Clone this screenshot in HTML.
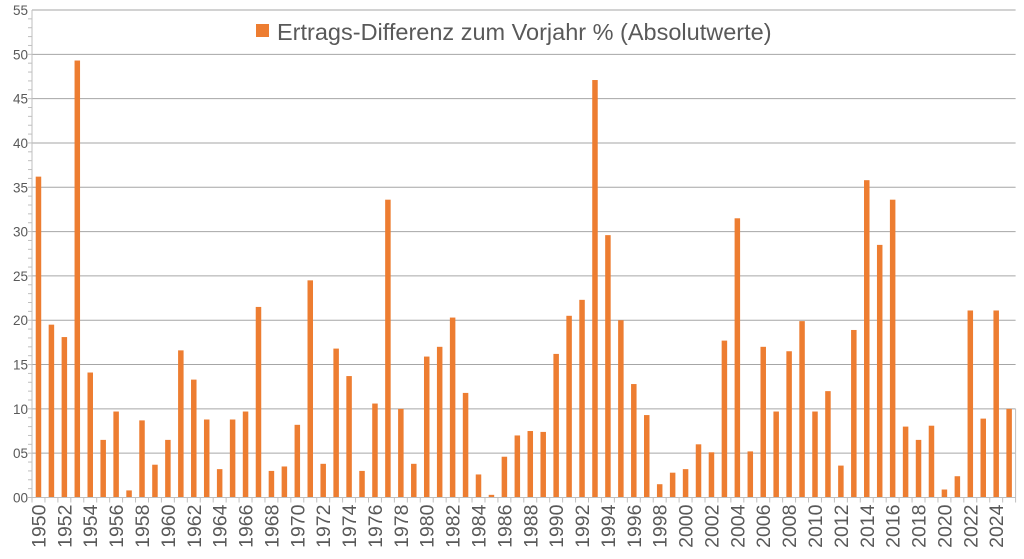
<!DOCTYPE html>
<html><head><meta charset="utf-8"><style>
body{margin:0;background:#fff;}
svg{display:block;font-family:"Liberation Sans",sans-serif;}
</style></head><body>
<svg id="chart" width="1024" height="559">
<rect width="1024" height="559" fill="#fff"/>
<g id="grid"></g><g id="bars"></g><g id="axes"></g>
<g>
<rect x="256" y="24" width="13" height="13" fill="#ED7D31"/>
<text x="277" y="40" font-size="23.5" fill="#595959">Ertrags-Differenz zum Vorjahr % (Absolutwerte)</text>
</g>
</svg>
<script>
const years=[];for(let y=1950;y<=2025;y++)years.push(y);
const values=[36.2,19.5,18.1,49.3,14.1,6.5,9.7,0.8,8.7,3.7,6.5,16.6,13.3,8.8,3.2,8.8,9.7,21.5,3.0,3.5,8.2,24.5,3.8,16.8,13.7,3.0,10.6,33.6,10.0,3.8,15.9,17.0,20.3,11.8,2.6,0.3,4.6,7.0,7.5,7.4,16.2,20.5,22.3,47.1,29.6,20.0,12.8,9.3,1.5,2.8,3.2,6.0,5.1,17.7,31.5,5.2,17.0,9.7,16.5,19.9,9.7,12.0,3.6,18.9,35.8,28.5,33.6,8.0,6.5,8.1,0.9,2.4,21.1,8.9,21.1,10.0];
const yTicks=["00","05","10","15","20","25","30","35","40","45","50","55"];
const NS="http://www.w3.org/2000/svg";
const L=32,R=1015.6,Y0=497.5,YT=10,MAX=55;
const cw=(R-L)/years.length;
const ys=v=>Y0-(Y0-YT)*v/MAX;
const xs=i=>L+cw*(i+0.5);
function mk(t,a,p){const e=document.createElementNS(NS,t);for(const k in a)e.setAttribute(k,a[k]);p.appendChild(e);return e;}
const grid=document.getElementById('grid'),bars=document.getElementById('bars'),axes=document.getElementById('axes');
yTicks.forEach((t,i)=>{const v=i*5,y=ys(v);
 if(i>0){const g=mk('line',{x1:L,x2:R,y1:y,y2:y,stroke:'#A6A6A6','stroke-width':1},grid);
 
 }
 const tx=mk('text',{x:L-4,y:y+5,'text-anchor':'end','font-size':13.5,fill:'#595959'},axes);tx.textContent=t;
 
 
 for(let k=0;k<5&&i<yTicks.length-1;k++){const yy=ys(v+k);mk('line',{x1:L-4,x2:L,y1:yy,y2:yy,stroke:'#BFBFBF'},axes);}
});
mk('line',{x1:L,x2:L,y1:YT,y2:Y0,stroke:'#BFBFBF'},axes);
mk('line',{x1:R,x2:R,y1:ys(10),y2:Y0,stroke:'#BFBFBF'},axes);
mk('line',{x1:L,x2:R,y1:Y0,y2:Y0,stroke:'#BFBFBF'},axes);
values.forEach((v,i)=>{const bw=5.5;
 const r=mk('rect',{x:xs(i)-bw/2,y:ys(v),width:bw,height:Y0-ys(v),fill:'#ED7D31'},bars);
 
 
});
for(let i=0;i<=years.length;i++){const x=L+cw*i;mk('line',{x1:x,x2:x,y1:Y0,y2:Y0+5,stroke:'#BFBFBF'},axes);}
years.forEach((yr,i)=>{if(i%2)return;const x=xs(i)+7;
 const t=mk('text',{x:x,y:Y0+7,'text-anchor':'end','font-size':19.5,fill:'#595959',transform:`rotate(-90 ${x} ${Y0+7})`},axes);
 t.textContent=yr;
 
 
});
</script>
</body></html>
